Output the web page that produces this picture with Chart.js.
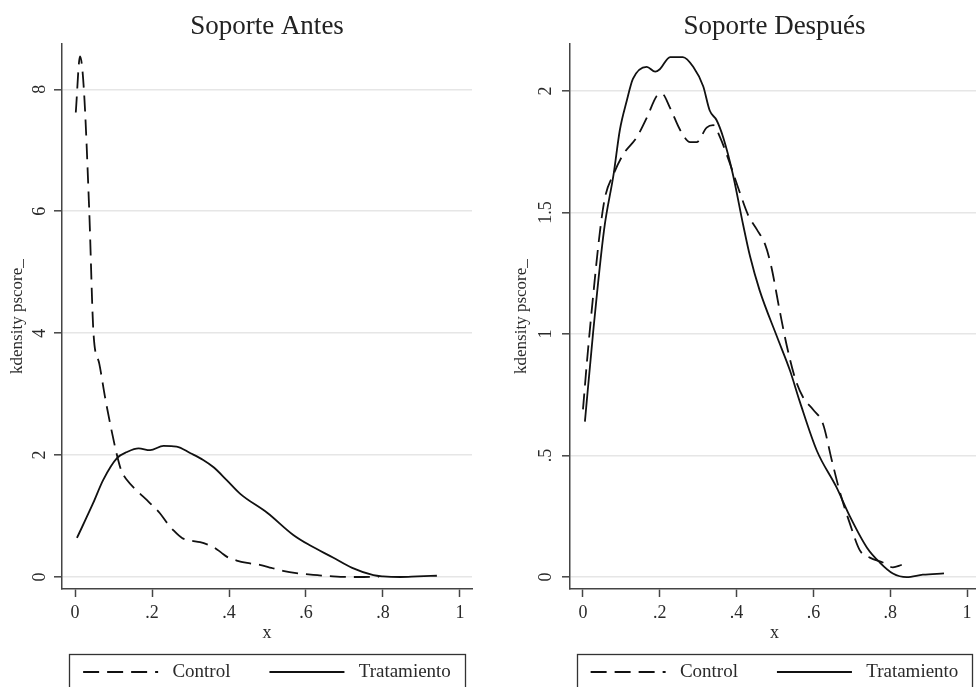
<!DOCTYPE html>
<html><head><meta charset="utf-8">
<script src="https://cdn.jsdelivr.net/npm/chart.js@4.4.1/dist/chart.umd.min.js"></script>
<style>
html,body{margin:0;padding:0;background:#fff;overflow:hidden;width:976px;height:687px;}
#wrap{position:relative;width:976px;height:687px;overflow:hidden;background:#fff;}
#b1{position:absolute;left:0;top:0;width:534px;height:687px;}
#b2{position:absolute;left:488px;top:0;width:573px;height:687px;}
</style></head><body>
<div id="wrap">
<div id="b1"><canvas id="c1" width="534" height="687"></canvas></div>
<div id="b2"><canvas id="c2" width="573" height="687"></canvas></div>
</div>
<script>
// ---------- data ----------
const panelTitles = ['Soporte Antes', 'Soporte Después'];
const seriesNames = ['Control', 'Tratamiento'];
const yAxisTitle = 'kdensity pscore_';
const xAxisTitle = 'x';
const xTickValues = [0, 0.2, 0.4, 0.6, 0.8, 1];
const xTickLabels = ['0', '.2', '.4', '.6', '.8', '1'];
const yTickValuesAntes = [0, 2, 4, 6, 8];
const yTickLabelsAntes = ['0', '2', '4', '6', '8'];
const yTickValuesDespues = [0, 0.5, 1, 1.5, 2];
const yTickLabelsDespues = ['0', '.5', '1', '1.5', '2'];

// Soporte Antes – Control
const antesControlX = [0.002,0.013,0.023,0.037,0.048,0.063,0.078,0.095,0.109,0.12,0.135,0.16,0.187,0.205,0.22,0.24,0.255,0.278,0.30,0.325,0.345,0.36,0.38,0.395,0.42,0.447,0.48,0.51,0.54,0.58,0.63,0.67,0.71,0.75,0.79];
const antesControlY = [7.62,8.54,8.0,6.0,4.0,3.5,2.95,2.4,2.0,1.75,1.59,1.42,1.26,1.15,1.05,0.88,0.77,0.64,0.6,0.57,0.53,0.49,0.4,0.33,0.27,0.23,0.2,0.15,0.1,0.06,0.03,0.01,0.0,0.0,0.005];
// Soporte Antes – Tratamiento
const antesTratX = [0.005,0.047,0.073,0.109,0.135,0.165,0.195,0.23,0.264,0.30,0.333,0.36,0.394,0.43,0.5,0.567,0.61,0.67,0.72,0.775,0.8,0.845,0.89,0.94];
const antesTratY = [0.64,1.21,1.59,1.95,2.05,2.11,2.08,2.15,2.14,2.03,1.92,1.80,1.59,1.36,1.05,0.69,0.52,0.32,0.15,0.03,0.01,0.0,0.01,0.02];
// Soporte Después – Control
const despControlX = [0.0,0.01,0.026,0.044,0.057,0.08,0.105,0.14,0.166,0.192,0.205,0.227,0.253,0.279,0.296,0.322,0.339,0.357,0.383,0.409,0.43,0.453,0.474,0.49,0.513,0.531,0.552,0.573,0.599,0.625,0.648,0.669,0.695,0.721,0.747,0.781,0.807,0.83];
const despControlY = [0.69,0.88,1.15,1.42,1.56,1.66,1.74,1.81,1.89,1.98,1.99,1.93,1.84,1.79,1.79,1.85,1.86,1.81,1.70,1.58,1.49,1.43,1.37,1.28,1.09,0.95,0.82,0.74,0.69,0.63,0.48,0.35,0.22,0.11,0.08,0.06,0.04,0.05];
// Soporte Después – Tratamiento
const despTratX = [0.005,0.026,0.055,0.08,0.096,0.114,0.13,0.166,0.188,0.2,0.227,0.26,0.287,0.313,0.33,0.348,0.365,0.39,0.417,0.435,0.46,0.505,0.539,0.565,0.609,0.66,0.695,0.74,0.773,0.807,0.843,0.885,0.94];
const despTratY = [0.64,1.0,1.43,1.66,1.84,1.96,2.05,2.10,2.08,2.09,2.14,2.14,2.10,2.02,1.92,1.88,1.81,1.66,1.45,1.32,1.18,0.99,0.85,0.72,0.52,0.37,0.25,0.12,0.06,0.015,0.0,0.01,0.015];

// ---------- chart ----------
const FAMILY = "'Liberation Serif', 'Times New Roman', serif";
const TXT = '#2a2a2a';
const AXIS = '#444';
const toPts = (xs, ys) => xs.map((x, i) => ({x: x, y: ys[i]}));

const legendBorder = {
  id: 'legendBorder',
  afterDraw(chart) {
    const {ctx, chartArea, legend} = chart;
    ctx.save();
    ctx.strokeStyle = '#333';
    ctx.lineWidth = 1.3;
    const l = Math.round(chartArea.left + 7) + 0.5;
    const r = Math.round(chartArea.right - 7) + 0.5;
    const t = Math.round(legend.top + 30.5) + 0.5;
    ctx.strokeRect(l, t, r - l, 80);
    ctx.restore();
  }
};

function buildChart(id, p) {
  return new Chart(document.getElementById(id), {
    type: 'line',
    data: {
      datasets: [
        {label: seriesNames[0], data: toPts(p.cx, p.cy), borderColor: '#111', backgroundColor: '#111',
         borderWidth: 1.8, borderDash: [16, 8], pointRadius: 0, cubicInterpolationMode: 'monotone', fill: false},
        {label: seriesNames[1], data: toPts(p.tx, p.ty), borderColor: '#111', backgroundColor: '#111',
         borderWidth: 1.8, pointRadius: 0, cubicInterpolationMode: 'monotone', fill: false}
      ]
    },
    options: {
      responsive: false, animation: false, events: [],
      layout: {autoPadding: false, padding: {left: 0, top: 0, right: 0, bottom: -4.5}},
      plugins: {
        title: {display: true, text: p.title, color: '#222',
                font: {family: FAMILY, size: 27, weight: 'normal'}, padding: {top: 10.8, bottom: 1}},
        legend: {
          display: true, position: 'bottom',
          labels: {
            usePointStyle: true, pointStyle: 'line', pointStyleWidth: 75, padding: 39,
            color: TXT, font: {family: FAMILY, size: 19},
            generateLabels: chart => Chart.defaults.plugins.legend.labels.generateLabels(chart)
              .map(l => {
                const ds = chart.data.datasets[l.datasetIndex];
                return Object.assign(l, {text: ' ' + l.text, lineDash: ds.borderDash || [],
                  lineWidth: ds.borderWidth, strokeStyle: ds.borderColor, fillStyle: ds.borderColor});
              })
          }
        },
        tooltip: {enabled: false}
      },
      scales: {
        x: {
          type: 'linear', min: -0.0338, max: 1.0312,
          afterBuildTicks: s => { s.ticks = xTickValues.map(v => ({value: v})); },
          afterFit: s => { s.height = 34.5; },
          ticks: {callback: (v, i) => xTickLabels[i], color: TXT, font: {family: FAMILY, size: 18},
                  padding: 5, maxRotation: 0, minRotation: 0, autoSkip: false},
          grid: {drawOnChartArea: false, drawTicks: true, tickLength: 8, tickColor: AXIS, tickWidth: 1.5},
          border: {display: true, color: AXIS, width: 1.5},
          title: {display: true, text: xAxisTitle, color: TXT, font: {family: FAMILY, size: 18},
                  padding: {top: 0, bottom: -20.3}}
        },
        y: {
          type: 'linear', position: 'left', min: p.ymin, max: p.ymax,
          afterBuildTicks: s => { s.ticks = p.yv.map(v => ({value: v})); },
          afterFit: s => { s.width = p.yWidth; },
          ticks: {callback: (v, i) => p.yl[i], color: TXT, font: {family: FAMILY, size: 18},
                  padding: p.yPad, minRotation: 90, maxRotation: 90, crossAlign: 'center', autoSkip: false},
          grid: {color: '#e6e6e6', lineWidth: 1.6, drawTicks: true, tickLength: 8, tickColor: AXIS, tickWidth: 1.5},
          border: {display: true, color: AXIS, width: 1.5},
          title: {display: true, text: yAxisTitle, color: TXT, font: {family: FAMILY, size: 17},
                  padding: {top: p.yTitlePad, bottom: 0}}
        },
        ySpacer: {
          type: 'linear', position: 'right', display: true,
          afterFit: s => { s.width = p.rightSpace; },
          ticks: {display: false}, grid: {display: false}, border: {display: false}
        }
      }
    },
    plugins: [legendBorder]
  });
}

buildChart('c1', {
  title: panelTitles[0], cx: antesControlX, cy: antesControlY, tx: antesTratX, ty: antesTratY,
  ymin: -0.197, ymax: 8.74, yv: yTickValuesAntes, yl: yTickLabelsAntes,
  yWidth: 62, yPad: 9.5, yTitlePad: 7.8, rightSpace: 62
});
buildChart('c2', {
  title: panelTitles[1], cx: despControlX, cy: despControlY, tx: despTratX, ty: despTratY,
  ymin: -0.049, ymax: 2.193, yv: yTickValuesDespues, yl: yTickLabelsDespues,
  yWidth: 82, yPad: 4.75, yTitlePad: 23.8, rightSpace: 82
});
</script>
</body></html>
